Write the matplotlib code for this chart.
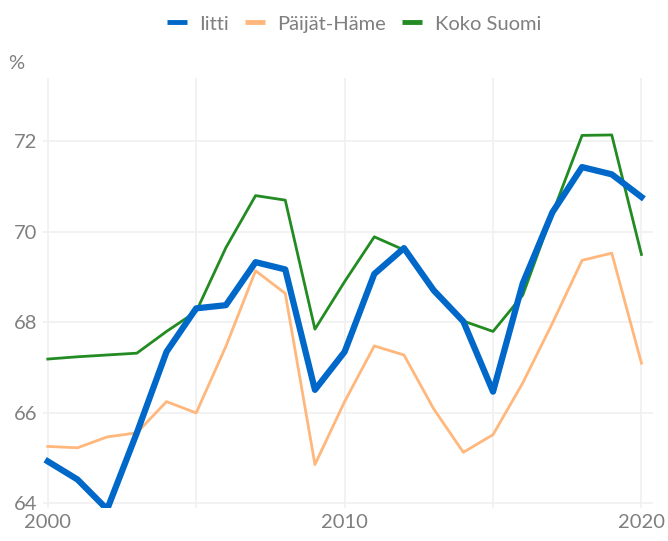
import matplotlib
matplotlib.use('Agg')
import matplotlib.pyplot as plt
from matplotlib.lines import Line2D

years = list(range(2000, 2021))

iitti = [64.93, 64.53, 63.87, 65.56, 67.35, 68.31, 68.38, 69.33, 69.17, 66.51, 67.35,
         69.07, 69.64, 68.71, 68.02, 66.47, 68.86, 70.43, 71.43, 71.27, 70.77]
paijat_hame = [65.26, 65.23, 65.47, 65.56, 66.25, 66.0, 67.47, 69.14, 68.64, 64.86, 66.25,
               67.48, 67.28, 66.09, 65.13, 65.52, 66.66, 67.98, 69.37, 69.53, 67.1]
koko_suomi = [67.19, 67.24, 67.28, 67.32, 67.8, 68.24, 69.65, 70.8, 70.7, 67.85, 68.9,
              69.89, 69.6, 68.66, 68.03, 67.8, 68.6, 70.4, 72.13, 72.14, 69.5]

yticks = [64, 66, 68, 70, 72]
xticks = [2000, 2010, 2020]

plt.rcParams['font.family'] = ['Lato', 'DejaVu Sans']
grey = '#7f7f7f'
colors = ['#0068c9', '#ffb77c', '#228b22']
names = ['Iitti', 'Päijät-Häme', 'Koko Suomi']

fig = plt.figure(figsize=(6.68, 5.41), dpi=100)
ax = fig.add_axes([0.064, 0.061, 0.914, 0.795])

ax.plot(years, iitti, color=colors[0], lw=4.5, zorder=3)
ax.plot(years, paijat_hame, color=colors[1], lw=2, zorder=2)
ax.plot(years, koko_suomi, color=colors[2], lw=2, zorder=2)

ax.set_xlim(1999.83, 2020.4)
ax.set_ylim(63.9, 73.4)
ax.set_xticks(xticks)
ax.set_xticks([2005, 2015], minor=True)
ax.set_yticks(yticks)
ax.grid(True, which='both', color='#f0f0f0', lw=1.2)
ax.set_axisbelow(True)
ax.tick_params(which='both', length=0, labelsize=14.5, labelcolor=grey, pad=4)
for s in ax.spines.values():
    s.set_visible(False)

fig.text(0.012, 0.872, '%', fontsize=14.5, color=grey)
handles = [Line2D([], [], color=c, lw=3.5, solid_capstyle='butt') for c in colors]
fig.legend(handles, names, loc='upper center', bbox_to_anchor=(0.53, 1.005), ncol=3,
           frameon=False, fontsize=14.5, labelcolor=grey, handlelength=1.0,
           handletextpad=0.6, columnspacing=0.8)

fig.savefig('out.png', dpi=100)
